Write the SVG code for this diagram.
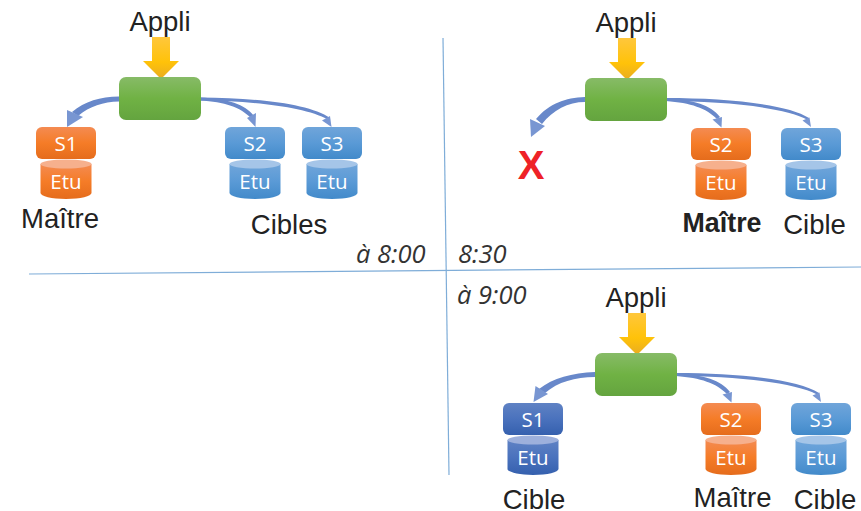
<svg xmlns="http://www.w3.org/2000/svg" width="861" height="511" viewBox="0 0 861 511">
<style>
.lab{font-family:"Liberation Sans",Arial,sans-serif;font-size:27.5px;fill:#222;text-anchor:middle}
.srv{font-family:"Open Sans","Noto Sans",sans-serif;font-size:20.5px;fill:#fff;text-anchor:middle}
.time{font-family:"Open Sans","Noto Sans",sans-serif;font-style:italic;font-size:25.5px;fill:#333}
.div{stroke:#7fadd8;stroke-width:1.2;fill:none}
.arrow{fill:#6888ca}
.head{fill:#7896d2}
.ofill{fill:url(#og)} .otop{fill:#f6b08d}
.bfill{fill:url(#bg)} .btop{fill:#a5c5e8}
.dfill{fill:url(#dg)} .dtop{fill:#9db0dc}
</style>
<defs>
<linearGradient id="og" x1="0" y1="0" x2="0" y2="1"><stop offset="0" stop-color="#f48b52"/><stop offset="0.5" stop-color="#f57c27"/><stop offset="1" stop-color="#e56c1c"/></linearGradient>
<linearGradient id="bg" x1="0" y1="0" x2="0" y2="1"><stop offset="0" stop-color="#70a5da"/><stop offset="0.5" stop-color="#5a9ad6"/><stop offset="1" stop-color="#428aca"/></linearGradient>
<linearGradient id="dg" x1="0" y1="0" x2="0" y2="1"><stop offset="0" stop-color="#5f82c4"/><stop offset="0.5" stop-color="#4a72bd"/><stop offset="1" stop-color="#3560ae"/></linearGradient>
<linearGradient id="gg" x1="0" y1="0" x2="0" y2="1"><stop offset="0" stop-color="#87bb67"/><stop offset="0.5" stop-color="#70b244"/><stop offset="1" stop-color="#64a43f"/></linearGradient>
<linearGradient id="yg" x1="0" y1="0" x2="0" y2="1"><stop offset="0" stop-color="#ffc73c"/><stop offset="0.6" stop-color="#ffc209"/><stop offset="1" stop-color="#e8ac22"/></linearGradient>
<g id="master">
<path d="M-8 0h18v24h9l-18 18l-18-18h9z" fill="url(#yg)"/>
<rect x="-41" y="40" width="82" height="43" rx="7" fill="url(#gg)"/>
</g>
<g id="srv-o">
<path class="ofill" d="M-25.500 37v29c0 3 11 6 25.500 6s25.500-3 25.500-6v-29z"/>
<ellipse class="otop" cx="0" cy="37" rx="25.500" ry="4.500"/>
<rect class="ofill" x="-30" y="0" width="60" height="32" rx="6"/>
</g>
<g id="srv-b">
<path class="bfill" d="M-25.500 37v29c0 3 11 6 25.500 6s25.500-3 25.500-6v-29z"/>
<ellipse class="btop" cx="0" cy="37" rx="25.500" ry="4.500"/>
<rect class="bfill" x="-30" y="0" width="60" height="32" rx="6"/>
</g>
<g id="srv-d">
<path class="dfill" d="M-25.500 37v29c0 3 11 6 25.500 6s25.500-3 25.500-6v-29z"/>
<ellipse class="dtop" cx="0" cy="37" rx="25.500" ry="4.500"/>
<rect class="dfill" x="-30" y="0" width="60" height="32" rx="6"/>
</g>
</defs>
<g id="connectors">
<path class="div" d="M443 38L449 475"/>
<path class="div" d="M29 274L861 267"/>
<!-- panel 1 -->
<path class="arrow" d="M119 96.500C100 97 85 101 72 112L78 116C90 106 103 102 119 101.500Z"/>
<path class="head" d="M67 127L67 110L83 117Z"/>
<path class="arrow" d="M200 97.500C228 99 245 104 254 116L251 118C240 107 225 102 200 100.500Z"/>
<path class="head" d="M255.500 127L256 113L247 118Z"/>
<path class="arrow" d="M200 97.500C260 98 310 104 330 118L328 119.500C305 107 255 101 200 100.500Z"/>
<path class="head" d="M331.500 127L330 116L322 120.500Z"/>
<!-- panel 2 -->
<path class="arrow" d="M585 97C565 98 550 103 536 119L542 124C553 110 568 102 585 102Z"/>
<path class="head" d="M531 137L530 119L545 126Z"/>
<path class="arrow" d="M666 98C694 100 711 105 720 117L717 119C706 108 691 103 666 101Z"/>
<path class="head" d="M721.500 127.500L722 117L712.500 119.500Z"/>
<path class="arrow" d="M666 98C726 98 788 104 809 118L807 119.500C784 107 721 101 666 101Z"/>
<path class="head" d="M811 127L809.500 117.500L802.500 120.500Z"/>
<!-- panel 3 -->
<path class="arrow" d="M595 372C572 373 553 378 539 389L545 393C558 382 575 377 595 377Z"/>
<path class="head" d="M533.500 402L535.500 386L548 394Z"/>
<path class="arrow" d="M676 373C704 375 721 380 730 392L727 394C716 383 701 378 676 376Z"/>
<path class="head" d="M731.500 402.500L732 392L722.500 394.500Z"/>
<path class="arrow" d="M676 373C736 373 798 379 819 393L817 394.500C794 382 731 376 676 376Z"/>
<path class="head" d="M821 402L819.500 392.500L812.500 395.500Z"/>
</g>
<g id="appli-1"><text class="lab" x="160" y="31">Appli</text></g>
<g id="master-1"><use href="#master" x="160" y="37"/></g>
<g id="s1-1"><use href="#srv-o" x="66" y="127"/><text class="srv" x="66" y="151">S1</text><text class="srv" x="66" y="189">Etu</text></g>
<g id="s2-1"><use href="#srv-b" x="255" y="127"/><text class="srv" x="255" y="151">S2</text><text class="srv" x="255" y="189">Etu</text></g>
<g id="s3-1"><use href="#srv-b" x="332" y="127"/><text class="srv" x="332" y="151">S3</text><text class="srv" x="332" y="189">Etu</text></g>
<g id="label-maitre-1"><text class="lab" x="60" y="228">Maître</text></g>
<g id="label-cibles"><text class="lab" x="289" y="234">Cibles</text></g>
<g id="appli-2"><text class="lab" x="626" y="32">Appli</text></g>
<g id="master-2"><use href="#master" x="626" y="38"/></g>
<g id="failed"><text x="531" y="179" font-family="Liberation Sans,Arial,sans-serif" font-weight="700" font-size="40" fill="#ee2227" text-anchor="middle">X</text></g>
<g id="s2-2"><use href="#srv-o" x="721" y="128"/><text class="srv" x="721" y="152">S2</text><text class="srv" x="721" y="190">Etu</text></g>
<g id="s3-2"><use href="#srv-b" x="811" y="128"/><text class="srv" x="811" y="152">S3</text><text class="srv" x="811" y="190">Etu</text></g>
<g id="label-maitre-2"><text class="lab" x="722" y="232" font-weight="700" style="font-size:26.8px">Maître</text></g>
<g id="label-cible-2"><text class="lab" x="814.500" y="234">Cible</text></g>
<g id="appli-3"><text class="lab" x="636" y="307">Appli</text></g>
<g id="master-3"><use href="#master" x="636" y="313"/></g>
<g id="s1-3"><use href="#srv-d" x="533" y="403"/><text class="srv" x="533" y="427">S1</text><text class="srv" x="533" y="465">Etu</text></g>
<g id="s2-3"><use href="#srv-o" x="731" y="403"/><text class="srv" x="731" y="427">S2</text><text class="srv" x="731" y="465">Etu</text></g>
<g id="s3-3"><use href="#srv-b" x="821" y="403"/><text class="srv" x="821" y="427">S3</text><text class="srv" x="821" y="465">Etu</text></g>
<g id="label-cible-3a"><text class="lab" x="534" y="509">Cible</text></g>
<g id="label-maitre-3"><text class="lab" x="732.500" y="507">Maître</text></g>
<g id="label-cible-3b"><text class="lab" x="825" y="509">Cible</text></g>
<g id="times">
<text class="time" x="356" y="263">à 8:00</text>
<text class="time" x="458" y="263">8:30</text>
<text class="time" x="457" y="304">à 9:00</text>
</g>
</svg>
